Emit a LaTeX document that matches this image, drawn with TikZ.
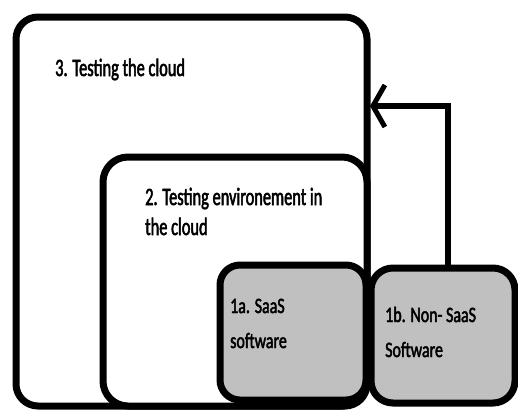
\documentclass[tikz,border=0pt]{standalone}
\usepackage{fontspec}
\usetikzlibrary{arrows.meta}
\newfontfamily\bigfont[FakeStretch=0.655, FakeBold=2]{Carlito}
\newfontfamily\smallfont[FakeStretch=0.725, FakeBold=2]{Carlito}
\definecolor{boxgray}{HTML}{C0C0C0}
\tikzset{
  frame/.style={draw=black, line width=7pt, rounded corners=22pt},
  whitebox/.style={frame, fill=white},
  graybox/.style={frame, fill=boxgray, rounded corners=20pt},
  bigtext/.style={inner sep=0pt, anchor=base west, align=left, font=\bigfont\fontsize{25}{30}\selectfont},
  smalltext/.style={inner sep=0pt, anchor=base west, align=left, font=\smallfont\fontsize{22}{35}\selectfont},
  link/.style={draw=black, line width=5.5pt, -{Straight Barb[length=12pt, width=42pt, line width=5pt]}}
}
\begin{document}
\begin{tikzpicture}[x=1pt, y=-1pt]
\useasboundingbox (0,0) rectangle (518,410);
% boxes
\draw[whitebox] (16,17) rectangle (367,406);
\coordinate (outerright) at (367,106);
\draw[whitebox, rounded corners=25pt] (103,157) rectangle (367,406);
\draw[graybox] (220,265) rectangle (366,400);
\draw[graybox, rounded corners=22pt] (371,268) rectangle (515,403);
\coordinate (bTop) at (448,268);
% texts (base anchor = baseline of last line)
\node[bigtext] (t3) at (55,76) {3. Testing the cloud};
\node[bigtext] (t2) at (145,235) {2. Testing environement in\\the cloud};
\node[smalltext] (t1a) at (230,348) {1a. SaaS\\software};
\node[smalltext] (t1b) at (385,357) {1b. Non- SaaS\\Software};
% arrow
\draw[link] (bTop) |- ([xshift=3pt]outerright);
\end{tikzpicture}
\end{document}
